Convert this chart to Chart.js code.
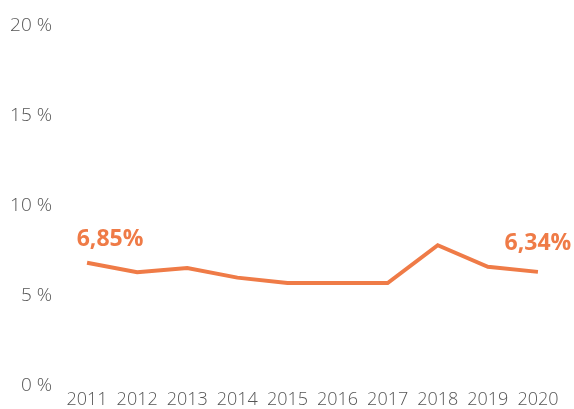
<!DOCTYPE html>
<html>
<head>
<meta charset="utf-8">
<script src="https://cdn.jsdelivr.net/npm/chart.js@4"></script>
<style>
  html, body { margin: 0; padding: 0; background: #ffffff; }
  #wrap { width: 574px; height: 409px; position: relative; }
</style>
</head>
<body>
<div id="wrap"><canvas id="chart"></canvas></div>
<script>
// Years and rates (%)
const years = ['2011', '2012', '2013', '2014', '2015', '2016', '2017', '2018', '2019', '2020'];
const rates = [6.85, 6.32, 6.55, 6.02, 5.72, 5.72, 5.72, 7.82, 6.62, 6.34];
const yTicks = [0, 5, 10, 15, 20];
// Points that carry a value label
const labelledIdx = [0, 9];

const ORANGE = '#EF7B47';

const fmt = v => v.toFixed(2).replace('.', ',') + '%';

const valueLabels = {
  id: 'valueLabels',
  afterDatasetsDraw(chart) {
    const { ctx } = chart;
    const meta = chart.getDatasetMeta(0);
    ctx.save();
    ctx.font = 'bold 23px "Open Sans"';
    ctx.fillStyle = ORANGE;
    ctx.textBaseline = 'middle';
    ctx.textAlign = 'center';
    labelledIdx.forEach(i => {
      const pt = meta.data[i];
      const first = i === 0;
      const x = pt.x + (first ? 23 : 0);
      const y = pt.y - (first ? 23 : 28);
      ctx.fillText(fmt(rates[i]), x, y);
    });
    ctx.restore();
  }
};

new Chart(document.getElementById('chart'), {
  type: 'line',
  data: {
    labels: years,
    datasets: [{
      data: rates,
      borderColor: ORANGE,
      borderWidth: 4,
      pointRadius: 0,
      tension: 0,
      fill: false
    }]
  },
  options: {
    responsive: true,
    maintainAspectRatio: false,
    animation: false,
    layout: { padding: { top: 26, right: 11, left: 0, bottom: 0 } },
    plugins: { legend: { display: false }, tooltip: { enabled: false } },
    scales: {
      x: {
        offset: true,
        grid: { display: false, drawTicks: false },
        border: { display: false },
        ticks: {
          color: '#555555',
          font: { family: '"Open Sans"', size: 18, weight: 300 },
          padding: 3,
          maxRotation: 0,
          autoSkip: false
        },
        afterFit(scale) { scale.height = 23; }
      },
      y: {
        min: 0,
        max: 20,
        afterBuildTicks(scale) { scale.ticks = yTicks.map(v => ({ value: v })); },
        grid: { display: false, drawTicks: false },
        border: { display: false },
        ticks: {
          color: '#555555',
          font: { family: '"Open Sans"', size: 19, weight: 300 },
          padding: 10,
          callback: v => v + ' %'
        },
        afterFit(scale) { scale.width = 62; }
      }
    }
  },
  plugins: [valueLabels]
});
</script>
</body>
</html>
